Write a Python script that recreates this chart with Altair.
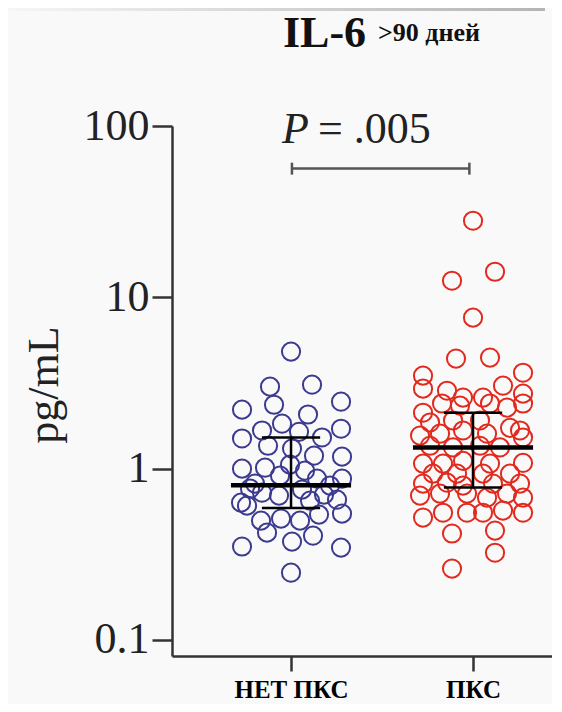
import altair as alt
import pandas as pd

# ---------------- data ----------------
groups = ["НЕТ ПКС", "ПКС"]
colors = ["#3b3a8f", "#e2291d"]

# horizontal jitter of each circle (in 1/182 of the group spacing) and IL-6 value (pg/mL)
blue_jitter = [0, -21, 21, -49, -17, 50, 17, -9, -29, 50,
               -49, 8, 31, -23, 1, 23, 51, -49, -26, -1,
               51, 26, -50, -44, -29, -12, 11, 33, 46, 51,
               -30, -10, 9, 28, -24, 1, 22, -49, 50, 0,
               -11, 14, -36, -41, 19, 39]
blue_values = [4.82, 3.01, 3.09, 2.21, 2.36, 2.46, 2.07, 1.83, 1.67, 1.71,
               1.50, 1.64, 1.52, 1.36, 1.31, 1.19, 1.175, 1.0, 1.013, 1.055,
               0.874, 0.874, 0.633, 0.608, 0.724, 0.696, 0.754, 0.705, 0.659, 0.546,
               0.497, 0.511, 0.497, 0.539, 0.423, 0.375, 0.406, 0.351, 0.346, 0.247,
               0.910, 0.973, 0.818, 0.764, 0.650, 0.796]

red_jitter = [0, -21, 22, 0, -17, 17, -50, 50, -50, -26,
              -10, 10, 30, 50, 50, -50, -31, -13, 17, 34,
              -43, -20, 7, 37, 47, 50, -53, -33, -10, 14,
              -43, -20, 7, 27, -50, -30, -10, 17, 50, -40,
              -16, 10, 37, -50, -26, -10, 20, 47, -53, -33,
              -6, 14, 34, 50, -50, -30, -6, 10, 30, 50,
              -21, 22, 22, -21]
red_values = [28.0, 12.5, 14.1, 7.61, 4.39, 4.45, 3.49, 3.63, 2.93, 2.85,
              2.60, 2.60, 3.05, 2.74, 2.40, 2.12, 2.40, 2.33, 2.40, 2.27,
              1.86, 1.91, 1.91, 1.73, 1.67, 1.52, 1.56, 1.60, 1.67, 1.60,
              1.36, 1.33, 1.36, 1.33, 1.07, 1.07, 1.11, 1.07, 1.08, 0.935,
              0.935, 0.935, 0.935, 0.818, 0.828, 0.796, 0.818, 0.818, 0.696, 0.715,
              0.715, 0.677, 0.715, 0.677, 0.518, 0.553, 0.553, 0.553, 0.569, 0.553,
              0.418, 0.435, 0.323, 0.261]

medians = [0.80, 1.33]
upper = [1.52, 2.12]
lower = [0.59, 0.775]

p_text = "= .005"
bracket_y = [52.0, 56.4, 61.1]  # lower cap, bar, upper cap

# ---------------- tables ----------------
rows = []
for gi, (vals, jit) in enumerate([(blue_values, blue_jitter), (red_values, red_jitter)]):
    for v, j in zip(vals, jit):
        rows.append({"g": gi, "jit": j, "val": v, "grp": groups[gi]})
pts = pd.DataFrame(rows)

summ = pd.DataFrame({"g": [0, 1], "med": medians, "hi": upper, "lo": lower})
brk = pd.DataFrame({"xa": [0.005], "xb": [0.98], "ylo": [bracket_y[0]],
                    "y": [bracket_y[1]], "yhi": [bracket_y[2]]})

# ---------------- scales / axes ----------------
xscale = alt.Scale(domain=[-0.654, 1.434], nice=False, zero=False)
yscale = alt.Scale(type="log", domain=[0.0806, 100], nice=False)

xaxis = alt.Axis(values=[0, 1],
                 labelExpr="datum.value == 0 ? 'НЕТ ПКС' : 'ПКС'",
                 labelFont="Liberation Serif", labelFontWeight="bold",
                 labelFontSize=25, labelColor="black", labelPadding=6,
                 tickSize=15, tickWidth=2.5, tickColor="#333",
                 domainColor="#333", domainWidth=2.5, grid=False,
                 labelFlush=False, title=None)
yaxis = alt.Axis(values=[0.1, 1, 10, 100], format="~g",
                 labelFont="Liberation Serif", labelFontSize=44,
                 labelColor="#222", labelPadding=3,
                 tickSize=20, tickWidth=2.5, tickColor="#333",
                 domainColor="#333", domainWidth=2.5, grid=False,
                 labelFlush=False, labelOverlap=False, title=None)


def X(field):
    return alt.X(field, scale=xscale, axis=xaxis, title=None)


def Y(field):
    return alt.Y(field, scale=yscale, axis=yaxis, title=None)


points = alt.Chart(pts).transform_calculate(
    xpos="datum.g + datum.jit / 182"
).mark_point(shape="circle", filled=False, size=330, strokeWidth=2.0, opacity=1).encode(
    x=X("xpos:Q"),
    y=Y("val:Q"),
    color=alt.Color("grp:N", scale=alt.Scale(domain=groups, range=colors), legend=None),
)

base_s = alt.Chart(summ).transform_calculate(
    x1="datum.g - 0.33", x2="datum.g + 0.33",
    c1="datum.g - 0.16", c2="datum.g + 0.16",
)
med_line = base_s.mark_rule(color="black", strokeWidth=4.5).encode(
    x=X("x1:Q"), x2="x2:Q", y=Y("med:Q"))
err_line = base_s.mark_rule(color="black", strokeWidth=2.5).encode(
    x=X("g:Q"), y=Y("lo:Q"), y2="hi:Q")
cap_hi = base_s.mark_rule(color="black", strokeWidth=2.5).encode(
    x=X("c1:Q"), x2="c2:Q", y=Y("hi:Q"))
cap_lo = base_s.mark_rule(color="black", strokeWidth=2.5).encode(
    x=X("c1:Q"), x2="c2:Q", y=Y("lo:Q"))

bk = alt.Chart(brk)
br_h = bk.mark_rule(color="#555", strokeWidth=2.5).encode(x=X("xa:Q"), x2="xb:Q", y=Y("y:Q"))
br_a = bk.mark_rule(color="#555", strokeWidth=2.5).encode(x=X("xa:Q"), y=Y("ylo:Q"), y2="yhi:Q")
br_b = bk.mark_rule(color="#555", strokeWidth=2.5).encode(x=X("xb:Q"), y=Y("ylo:Q"), y2="yhi:Q")

one = alt.Data(values=[{"a": 1}])


def label(text, x, y, size, font="Liberation Serif", weight="normal", style="normal",
          angle=0, align="left", baseline="alphabetic", color="#111"):
    return alt.Chart(one).mark_text(
        text=text, font=font, fontSize=size, fontWeight=weight, fontStyle=style,
        angle=angle, align=align, baseline=baseline, color=color
    ).encode(x=alt.value(x), y=alt.value(y))


p_italic = label("P", 110, 17, 44, style="italic", color="#222")
p_rest = label(p_text, 146, 17, 44, color="#222")
title1 = label("IL-6", 111, -79, 44, weight="bold", color="#111")
title2 = label(">90 дней", 206, -85, 26, weight="bold", color="#111")
ytitle = label("pg/mL", -127, 259, 44, angle=270, align="center", baseline="middle", color="#222")

band = alt.Chart(one).mark_rect(
    fill=alt.LinearGradient(gradient="linear",
                            stops=[alt.GradientStop(color="#f6f6f6", offset=0),
                                   alt.GradientStop(color="#b4b4b4", offset=1)],
                            x1=0, x2=1, y1=0, y2=0)
).encode(x=alt.value(-164), x2=alt.value(373), y=alt.value(-118), y2=alt.value(-115))

chart = alt.layer(
    points, med_line, err_line, cap_hi, cap_lo, br_h, br_a, br_b,
    p_italic, p_rest, title1, title2, ytitle, band
).properties(
    width=380, height=530,
    autosize=alt.AutoSizeParams(type="none"),
    padding={"left": 164, "top": 118, "right": 0, "bottom": 48},
    background="#f9f9f9",
).configure_view(stroke=None)

chart.save("out.html", embed_options={"renderer": "svg", "actions": False})
